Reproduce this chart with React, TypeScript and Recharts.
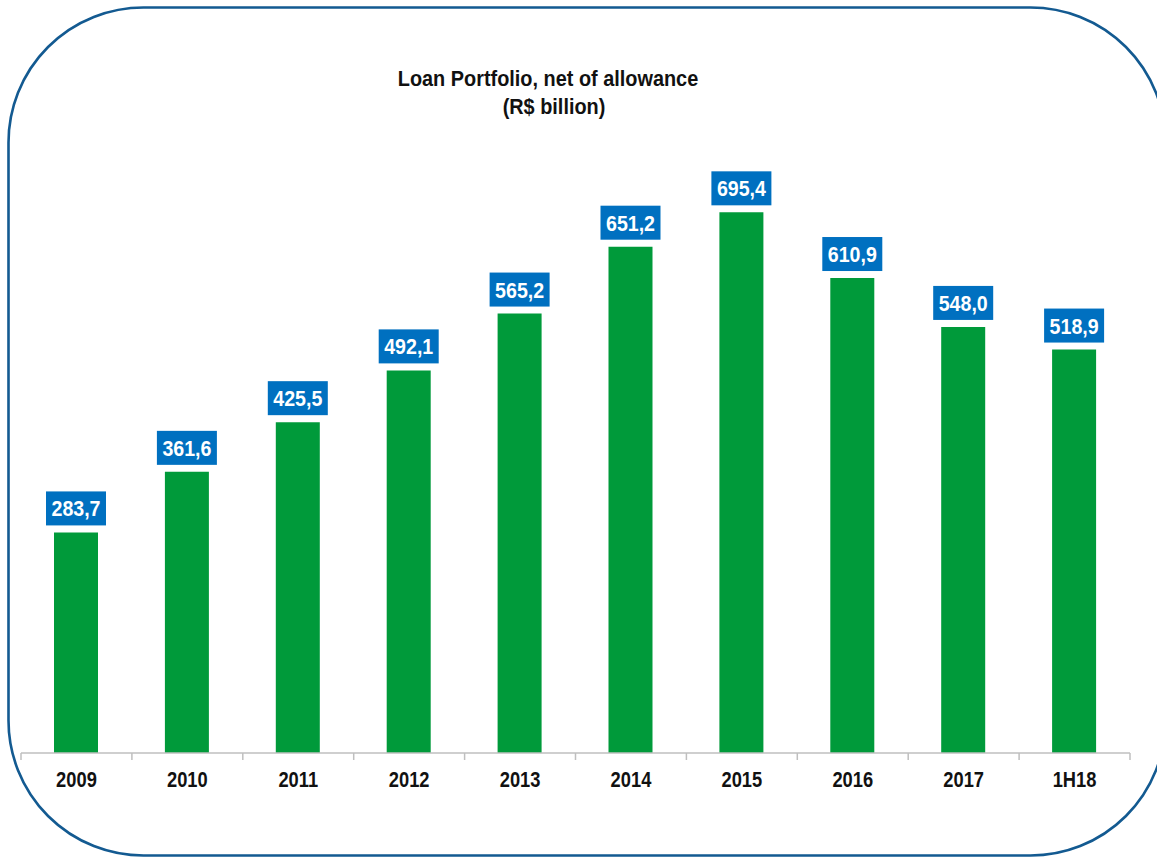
import React from "react";
import { BarChart, Bar, XAxis, YAxis, LabelList } from "recharts";

const categories = ["2009", "2010", "2011", "2012", "2013", "2014", "2015", "2016", "2017", "1H18"];
const loanValues = [283.7, 361.6, 425.5, 492.1, 565.2, 651.2, 695.4, 610.9, 548.0, 518.9];
const titleLines = ["Loan Portfolio, net of allowance", "(R$ billion)"];

const data = categories.map((c, i) => ({ name: c, value: loanValues[i] }));

const W = 1157;
const H = 858;
const M = { top: 131, right: 27, bottom: 75, left: 21 };
const XH = 30;
const FONT = "'Liberation Sans', Arial, Helvetica, sans-serif";
const BAND = (W - M.left - M.right) / categories.length;

const fmt = (v: number) => v.toFixed(1).replace(".", ",");

const Tick = (props: any) => {
  const { x, y, payload, index } = props;
  const last = index === categories.length - 1;
  const axisY = y - 8;
  return (
    <g>
      <line x1={x - BAND / 2} x2={x - BAND / 2} y1={axisY} y2={axisY + 7} stroke="#bfbfbf" strokeWidth={1.5} />
      {last && (
        <line x1={x + BAND / 2} x2={x + BAND / 2} y1={axisY} y2={axisY + 7} stroke="#bfbfbf" strokeWidth={1.5} />
      )}
      <text
        transform={`translate(${x},${axisY + 34}) scale(1,1.2)`}
        textAnchor="middle"
        fontFamily={FONT}
        fontWeight="bold"
        fontSize={18.3}
        fill="#111"
      >
        {payload.value}
      </text>
    </g>
  );
};

const BoxLabel = (props: any) => {
  const { x, y, width, value } = props;
  const cx = x + width / 2;
  const bw = 60;
  const bh = 34;
  const top = y - 7 - bh;
  return (
    <g>
      <rect x={cx - bw / 2} y={top} width={bw} height={bh} fill="#0070c0" />
      <text
        transform={`translate(${cx},${top + bh / 2 + 8}) scale(1,1.15)`}
        textAnchor="middle"
        fontFamily={FONT}
        fontWeight="bold"
        fontSize={19.6}
        fill="#ffffff"
      >
        {fmt(value)}
      </text>
    </g>
  );
};

export default function App() {
  return (
    <div style={{ position: "absolute", left: 0, top: 0, width: W, height: H, overflow: "hidden", background: "#fff" }}>
      <svg width={W} height={H} style={{ position: "absolute", left: 0, top: 0 }}>
        <rect x={8.5} y={7.5} width={1157} height={848} rx={135} ry={135} fill="none" stroke="#135a91" strokeWidth={2.6} />
        <text
          transform="translate(548,86) scale(1,1.12)"
          textAnchor="middle"
          fontFamily={FONT}
          fontWeight="bold"
          fontSize={19.9}
          fill="#111"
        >
          {titleLines[0]}
        </text>
        <text
          transform="translate(554,113.5) scale(1,1.12)"
          textAnchor="middle"
          fontFamily={FONT}
          fontWeight="bold"
          fontSize={19.9}
          fill="#111"
        >
          {titleLines[1]}
        </text>
      </svg>
      <div style={{ position: "absolute", left: 0, top: 0 }}>
        <BarChart width={W} height={H} data={data} margin={M}>
          <YAxis hide domain={[0, 800]} />
          <XAxis
            dataKey="name"
            height={XH}
            axisLine={{ stroke: "#bfbfbf", strokeWidth: 1.5 }}
            tickLine={false}
            tick={<Tick />}
            interval={0}
          />
          <Bar dataKey="value" fill="#009a3a" barSize={44} isAnimationActive={false}>
            <LabelList dataKey="value" content={<BoxLabel />} />
          </Bar>
        </BarChart>
      </div>
    </div>
  );
}
